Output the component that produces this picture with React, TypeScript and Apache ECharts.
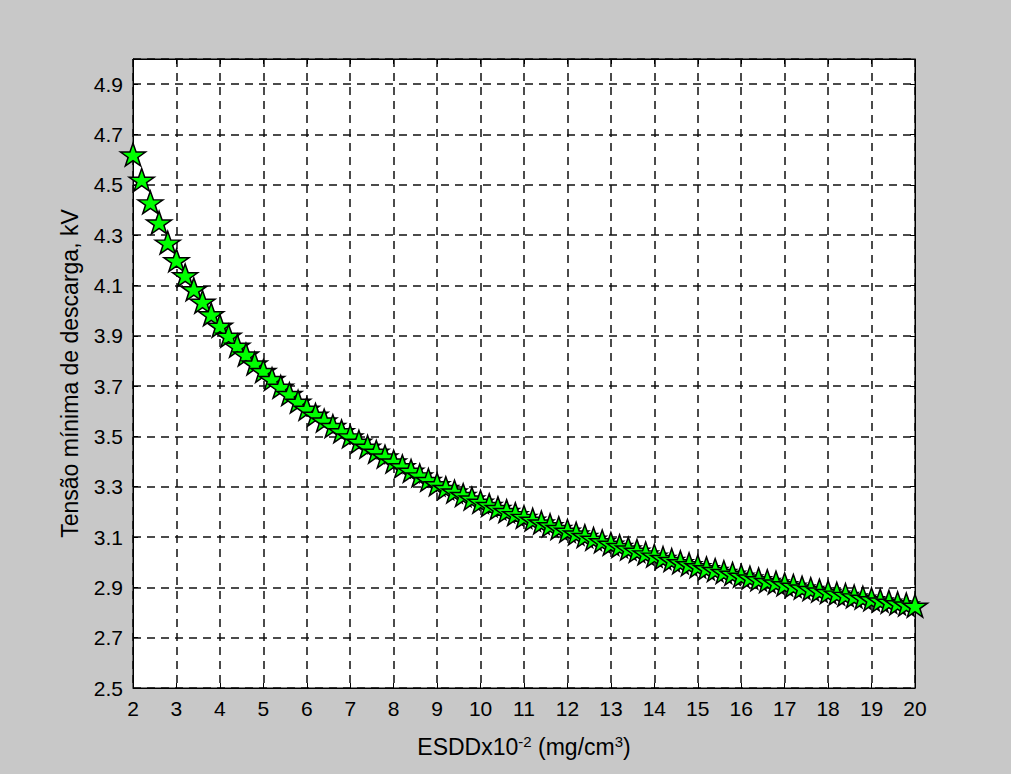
import React, { useEffect, useRef } from 'react';
import * as echarts from 'echarts';

// ESDD x10^-2 (mg/cm3)
const esdd = [
  2.0, 2.2, 2.4, 2.6, 2.8,
  3.0, 3.2, 3.4, 3.6, 3.8,
  4.0, 4.2, 4.4, 4.6, 4.8,
  5.0, 5.2, 5.4, 5.6, 5.8,
  6.0, 6.2, 6.4, 6.6, 6.8,
  7.0, 7.2, 7.4, 7.6, 7.8,
  8.0, 8.2, 8.4, 8.6, 8.8,
  9.0, 9.2, 9.4, 9.6, 9.8,
  10.0, 10.2, 10.4, 10.6, 10.8,
  11.0, 11.2, 11.4, 11.6, 11.8,
  12.0, 12.2, 12.4, 12.6, 12.8,
  13.0, 13.2, 13.4, 13.6, 13.8,
  14.0, 14.2, 14.4, 14.6, 14.8,
  15.0, 15.2, 15.4, 15.6, 15.8,
  16.0, 16.2, 16.4, 16.6, 16.8,
  17.0, 17.2, 17.4, 17.6, 17.8,
  18.0, 18.2, 18.4, 18.6, 18.8,
  19.0, 19.2, 19.4, 19.6, 19.8,
  20.0,
];

// Tensão mínima de descarga (kV)
const tensao = [
  4.62, 4.52, 4.43, 4.35, 4.27,
  4.20, 4.14, 4.085, 4.035, 3.985,
  3.94, 3.90, 3.86, 3.825, 3.79,
  3.76, 3.728, 3.697, 3.668, 3.638,
  3.61, 3.586, 3.563, 3.541, 3.520,
  3.50, 3.479, 3.459, 3.439, 3.420,
  3.40, 3.381, 3.363, 3.345, 3.327,
  3.31, 3.295, 3.281, 3.267, 3.253,
  3.24, 3.227, 3.215, 3.203, 3.191,
  3.18, 3.169, 3.158, 3.147, 3.136,
  3.125, 3.114, 3.104, 3.093, 3.083,
  3.073, 3.064, 3.054, 3.045, 3.035,
  3.026, 3.017, 3.009, 3.000, 2.992,
  2.984, 2.976, 2.969, 2.961, 2.954,
  2.946, 2.939, 2.932, 2.925, 2.919,
  2.912, 2.906, 2.899, 2.893, 2.887,
  2.881, 2.875, 2.870, 2.864, 2.859,
  2.853, 2.848, 2.843, 2.837, 2.832,
  2.827,
];

const xMin = 2;
const xMax = 20;
const xStep = 1;
const yMin = 2.5;
const yMax = 5.0;
const yStep = 0.2;

const xName = 'ESDDx10{sup|-2} (mg/cm{sup|3})';
const yName = 'Tensão mínima de descarga, kV';

const STAR =
  'path://M50 0L61.8 35.1L98.1 35.1L68.8 56.7L79.4 90.5L50 69.1L20.6 90.5L31.2 56.7L1.9 35.1L38.2 35.1Z';

const FONT = '"Liberation Sans", Arial, Helvetica, sans-serif';

export default function App() {
  const ref = useRef<HTMLDivElement>(null);

  useEffect(() => {
    if (!ref.current) return;
    const chart = echarts.init(ref.current, null, { renderer: 'svg' });

    const gridLine = {
      show: true,
      lineStyle: { color: '#111', width: 1.5, type: [8, 6] as number[] },
    };
    const labelStyle = { color: '#000', fontSize: 21, fontFamily: FONT };
    const titleStyle = { color: '#000', fontSize: 23, fontFamily: FONT };

    const data = esdd.map((x, i) => [x, tensao[i]]);

    chart.setOption({
      animation: false,
      backgroundColor: '#c8c8c8',
      textStyle: { fontFamily: FONT },
      grid: {
        left: 133,
        right: 96,
        top: 59,
        bottom: 86,
        show: true,
        backgroundColor: '#ffffff',
        borderColor: '#000',
        borderWidth: 1,
        outerBoundsMode: 'none',
      },
      xAxis: [
        {
          type: 'value',
          min: xMin,
          max: xMax,
          interval: xStep,
          position: 'bottom',
          axisLine: { show: true, lineStyle: { color: '#000', width: 1 } },
          axisTick: { show: true, inside: true, length: 5, lineStyle: { color: '#000' } },
          axisLabel: { ...labelStyle, margin: 10 },
          splitLine: gridLine,
          name: xName,
          nameLocation: 'middle',
          nameGap: 46,
          nameTextStyle: {
            ...titleStyle,
            rich: {
              sup: { fontSize: 15, fontFamily: FONT, color: '#000', verticalAlign: 'top', padding: [0, 0, 10, 0] },
            },
          },
        },
        {
          type: 'value',
          min: xMin,
          max: xMax,
          interval: xStep,
          position: 'top',
          axisLine: { show: true, lineStyle: { color: '#000', width: 1 } },
          axisTick: { show: true, inside: true, length: 5, lineStyle: { color: '#000' } },
          axisLabel: { show: false },
          splitLine: { show: false },
        },
      ],
      yAxis: [
        {
          type: 'value',
          min: yMin,
          max: yMax,
          interval: yStep,
          position: 'left',
          axisLine: { show: true, lineStyle: { color: '#000', width: 1 } },
          axisTick: { show: true, inside: true, length: 5, lineStyle: { color: '#000' } },
          axisLabel: {
            ...labelStyle,
            margin: 10,
            formatter: (v: number) => (v > yMax - 0.05 ? '' : v.toFixed(1)),
          },
          splitLine: gridLine,
          name: yName,
          nameLocation: 'middle',
          nameGap: 52,
          nameTextStyle: { ...titleStyle },
        },
        {
          type: 'value',
          min: yMin,
          max: yMax,
          interval: yStep,
          position: 'right',
          axisLine: { show: true, lineStyle: { color: '#000', width: 1 } },
          axisTick: { show: true, inside: true, length: 5, lineStyle: { color: '#000' } },
          axisLabel: { show: false },
          splitLine: { show: false },
        },
      ],
      series: [
        {
          type: 'line',
          xAxisIndex: 0,
          yAxisIndex: 0,
          data,
          showSymbol: true,
          showAllSymbol: true,
          symbol: STAR,
          symbolSize: [25, 24],
          symbolKeepAspect: true,
          lineStyle: { width: 0, opacity: 0 },
          itemStyle: { color: '#00ff00', borderColor: '#000', borderWidth: 1.5 },
          clip: false,
          z: 5,
        },
      ],
    });

    return () => chart.dispose();
  }, []);

  return (
    <div
      ref={ref}
      style={{ position: 'fixed', left: 0, top: 0, width: 1011, height: 774 }}
    />
  );
}
